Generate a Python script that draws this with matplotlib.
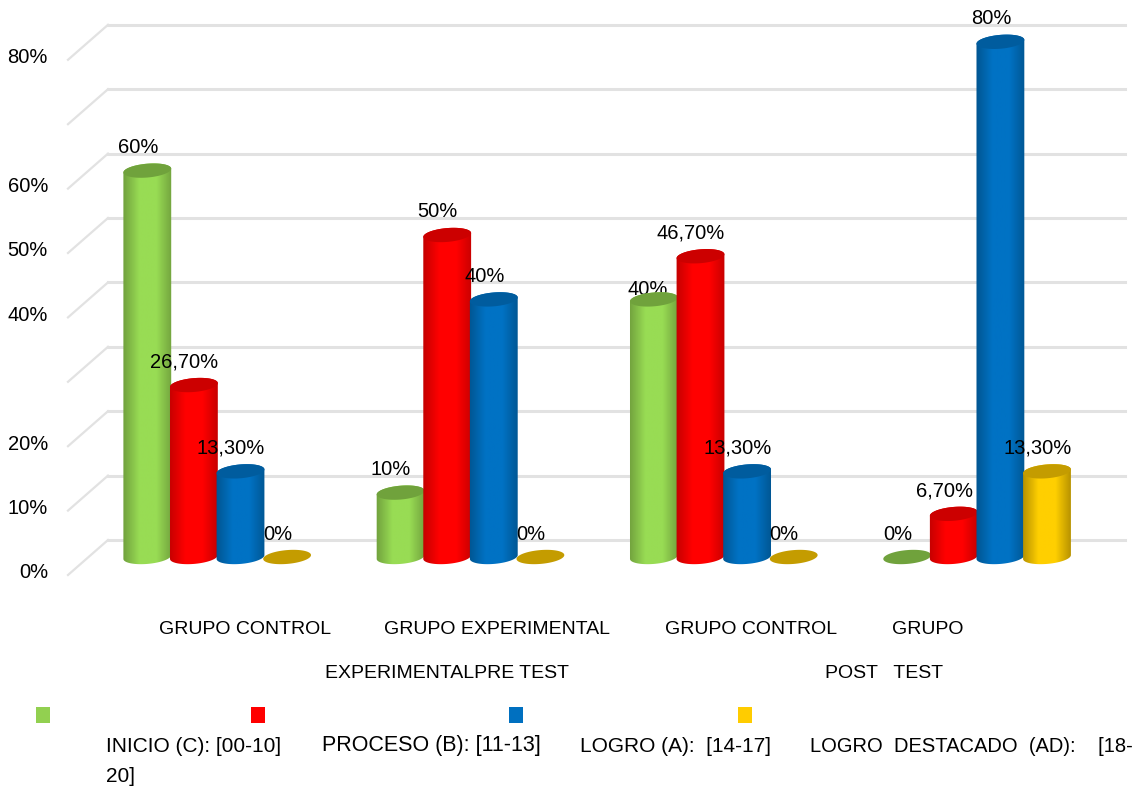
import matplotlib
matplotlib.use("Agg")
import matplotlib.pyplot as plt
import numpy as np
from matplotlib.patches import Polygon, Rectangle
from matplotlib.colors import LinearSegmentedColormap

plt.rcParams["font.family"] = "Liberation Sans"

W, H = 1141, 788

series_names = ["INICIO (C): [00-10]", "PROCESO (B): [11-13]", "LOGRO (A):  [14-17]",
                "LOGRO  DESTACADO  (AD):    [18-"]
legend_wrap = "20]"
inicio = [60, 10, 40, 0]
proceso = [26.7, 50, 46.7, 6.7]
logro = [13.3, 40, 13.3, 80]
destacado = [0, 0, 0, 13.3]
value_labels = [
    ["60%", "10%", "40%", "0%"],
    ["26,70%", "50%", "46,70%", "6,70%"],
    ["13,30%", "40%", "13,30%", "80%"],
    ["0%", "0%", "0%", "13,30%"],
]
y_ticks = [0, 10, 20, 40, 50, 60, 80]
grid_values = [0, 10, 20, 30, 40, 50, 60, 70, 80]
group_labels = ["GRUPO CONTROL", "GRUPO EXPERIMENTAL", "GRUPO CONTROL", "GRUPO"]
phase_labels = ["EXPERIMENTALPRE TEST", "POST   TEST"]

# edge, centre, top-cap colours per series
shades = [
    ("#6f9e3c", "#98dc54", "#70a23c"),
    ("#c20000", "#ff0000", "#cc0000"),
    ("#00548f", "#0072c4", "#005c9e"),
    ("#b08c00", "#ffcf00", "#c49c00"),
]
legend_colors = ["#92d050", "#ff0000", "#0070c0", "#ffcc00"]
grid_color = "#e2e2e2"

# layout, in pixels
bar_w = 46.6
group_step = 253.3
first_left = 124
zero_y = 557
px_per_pct = 6.44
depth_down, depth_up = 18, 17

fig = plt.figure(figsize=(W / 100, H / 100), dpi=100)
ax = fig.add_axes([0, 0, 1, 1])
# x is measured in bar widths from the first bar, y in percent
ax.set_xlim(-first_left / bar_w, (W - first_left) / bar_w)
ax.set_ylim(-(H - zero_y) / px_per_pct, zero_y / px_per_pct)
ax.axis("off")


def fx(x):
    return x / W


def fy(y):
    return 1 - y / H


def cap_points(cx, v, t):
    # tilted ellipse around the bar axis, lower left to upper right
    a, b, tilt = 24.0, 6.9, np.radians(5.0)
    dx = a * np.cos(t) * np.cos(tilt) - b * np.sin(t) * np.sin(tilt)
    dy = a * np.cos(t) * np.sin(tilt) + b * np.sin(t) * np.cos(tilt)
    return np.column_stack([cx + dx / bar_w, v + dy / px_per_pct])


def draw_bar(x, v, colors, z):
    edge, centre, top = colors
    cx = x + 0.5
    cap = Polygon(cap_points(cx, v, np.linspace(0, 2 * np.pi, 80)), closed=True,
                  fc=top, ec="none", zorder=z + 0.2)
    if v > 0:
        lower = cap_points(cx, 0, np.linspace(np.pi, 2 * np.pi, 40))
        upper = cap_points(cx, v, np.linspace(0, np.pi, 40))
        body = Polygon(np.vstack([lower, upper]), closed=True, fc="none", ec="none")
        ax.add_patch(body)
        cmap = LinearSegmentedColormap.from_list("cyl", [edge, centre, centre, edge])
        grad = np.linspace(0, 1, 64).reshape(1, -1)
        im = ax.imshow(grad, cmap=cmap, extent=[x - 0.05, x + 1.05, -2, v + 2],
                       aspect="auto", zorder=z, interpolation="bilinear")
        im.set_clip_path(body)
    ax.add_patch(cap)


series = [inicio, proceso, logro, destacado]
step = group_step / bar_w

# back wall lines with the short diagonal at the left
for v in grid_values:
    ax.plot([(68 - first_left) / bar_w, (108 - first_left) / bar_w],
            [v - depth_down / px_per_pct, v + depth_up / px_per_pct],
            color=grid_color, lw=1.6, zorder=1)
    ax.plot([(108 - first_left) / bar_w, (1125 - first_left) / bar_w],
            [v + depth_up / px_per_pct] * 2, color=grid_color, lw=2.2, zorder=1)

for g in range(4):
    for s in range(4):
        draw_bar(g * step + s, series[s][g], shades[s], 3 + g + s * 0.5)

# value labels; the green 40% one sits partly behind its bar
for g in range(4):
    for s in range(4):
        offset = (-9.5, 23)
        z = 20
        if g == 2 and s == 0:
            offset = (-6, 10)
            z = 4.9
        ax.annotate(value_labels[s][g], (g * step + s + 0.5, series[s][g]),
                    xytext=offset, textcoords="offset pixels", ha="center", va="center",
                    fontsize=14.5, color="black", zorder=z)

for v in y_ticks:
    ax.annotate(f"{v}%", ((48 - first_left) / bar_w, v - depth_down / px_per_pct),
                xytext=(0, 2), textcoords="offset pixels", ha="right", va="center",
                fontsize=14.5, color="black")

for x, label in zip([159, 384, 665, 892], group_labels):
    fig.text(fx(x), fy(630), label, ha="left", va="center", fontsize=14)
for x, label in zip([325, 825], phase_labels):
    fig.text(fx(x), fy(674), label, ha="left", va="center", fontsize=14)

# legend: swatches on one row, their texts on the row below
swatch_x = [36, 251, 509, 738]
text_x = [106, 322, 580, 810]
legend_sizes = [15, 15.5, 15, 14.5]
for c, sx in zip(legend_colors, swatch_x):
    fig.add_artist(Rectangle((fx(sx), fy(723)), 14 / W, 16 / H, transform=fig.transFigure,
                             fc=c, ec="none"))
for name, tx, size in zip(series_names, text_x, legend_sizes):
    fig.text(fx(tx), fy(746), name, ha="left", va="center", fontsize=size)
fig.text(fx(text_x[0]), fy(776), legend_wrap, ha="left", va="center", fontsize=15)

fig.savefig("out.png", dpi=100)
